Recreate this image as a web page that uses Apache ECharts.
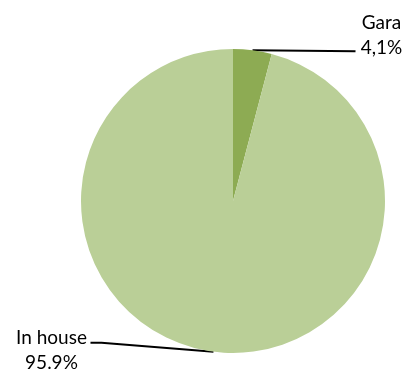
<!DOCTYPE html>
<html>
<head>
<meta charset="utf-8">
<script src="https://cdn.jsdelivr.net/npm/echarts@6/dist/echarts.min.js"></script>
<style>
  html, body { margin: 0; padding: 0; background: #fff; }
  #chart { width: 402px; height: 369px; }
</style>
</head>
<body>
<div id="chart"></div>
<script>
// data
const categories = ["Gara", "In house"];
const shares = [4.1, 95.9];
const shareLabels = ["4,1%", "95.9%"];
const colors = ["#8DAB53", "#BACF97"];

const chart = echarts.init(document.getElementById("chart"), null, { renderer: "canvas" });

const data = categories.map((name, i) => ({
  name,
  value: shares[i],
  itemStyle: { color: colors[i] }
}));

chart.setOption({
  animation: false,
  series: [
    {
      type: "pie",
      center: [233, 201],
      radius: 152,
      startAngle: 90,
      clockwise: true,
      silent: true,
      data,
      label: {
        show: true,
        position: "outside",
        fontFamily: "Lato",
        fontSize: 19,
        lineHeight: 25,
        color: "#000",
        formatter: (p) => p.name + "\n" + shareLabels[p.dataIndex]
      },
      labelLine: {
        show: true,
        length: 10,
        length2: 20,
        lineStyle: { color: "#000", width: 1.8 }
      },
      // put labels and leader lines where the original has them,
      // starting from the edge point the library computes
      labelLayout: (params) => {
        const p = params.labelLinePoints[0];
        if (params.dataIndex === 0) {
          return {
            x: p[0] + 129,
            y: p[1] - 15,
            align: "center",
            verticalAlign: "middle",
            labelLinePoints: [p, [p[0] + 103, p[1] + 1]]
          };
        }
        return {
          x: p[0] - 162,
          y: p[1] - 1,
          align: "center",
          verticalAlign: "middle",
          labelLinePoints: [p, [p[0] - 112, p[1] - 9], [p[0] - 123, p[1] - 9]]
        };
      }
    }
  ]
});
</script>
</body>
</html>
